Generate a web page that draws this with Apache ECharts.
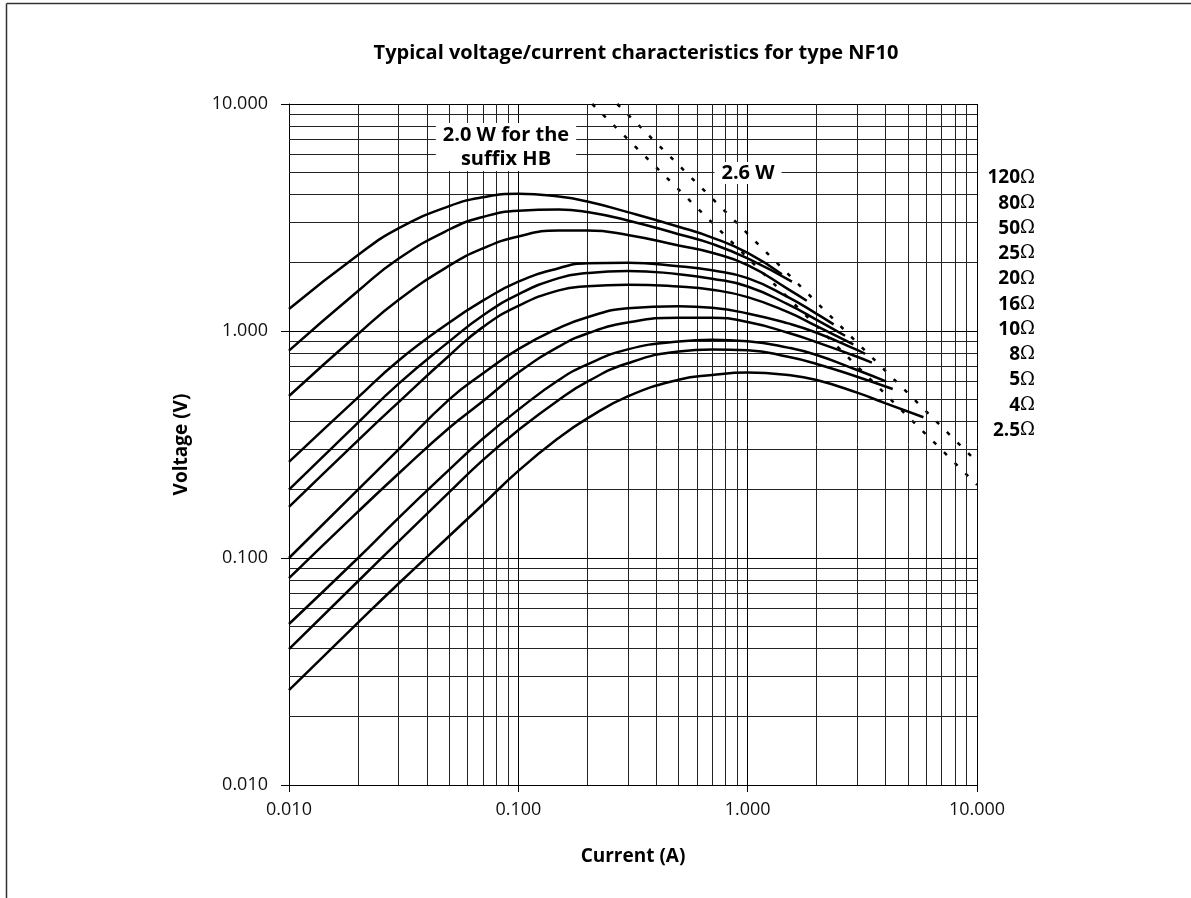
<!DOCTYPE html>
<html>
<head>
<meta charset="utf-8">
<script src="https://cdn.jsdelivr.net/npm/echarts@6/dist/echarts.min.js"></script>
<style>
  html, body { margin: 0; padding: 0; background: #fff; }
  #chart { width: 1191px; height: 898px; }
</style>
</head>
<body>
<div id="chart"></div>
<script>
// V/I curves, [current A, voltage V]
const r120 = [[0.01,1.25],[0.02,2.16],[0.03,2.83],[0.05,3.55],[0.07,3.88],[0.1,4.02],[0.15,3.91],[0.2,3.72],[0.3,3.34],[0.5,2.88],[0.7,2.58],[1,2.21],[1.41,1.78]];
const r80 = [[0.01,0.82],[0.02,1.5],[0.03,2.08],[0.05,2.8],[0.07,3.18],[0.1,3.39],[0.15,3.43],[0.2,3.34],[0.3,3.07],[0.5,2.67],[0.7,2.42],[1,2.09],[1.56,1.65]];
const r50 = [[0.01,0.517],[0.02,0.97],[0.03,1.37],[0.05,1.94],[0.07,2.31],[0.1,2.61],[0.15,2.77],[0.2,2.77],[0.3,2.65],[0.5,2.38],[0.7,2.21],[1,1.95],[1.5,1.53],[1.81,1.36]];
const r25 = [[0.01,0.265],[0.02,0.51],[0.03,0.74],[0.05,1.09],[0.07,1.36],[0.1,1.65],[0.15,1.89],[0.2,1.99],[0.3,2.0],[0.5,1.93],[0.7,1.85],[1,1.71],[1.5,1.41],[2,1.19],[2.37,1.07]];
const r20 = [[0.01,0.2],[0.02,0.395],[0.03,0.585],[0.05,0.9],[0.07,1.17],[0.1,1.45],[0.15,1.71],[0.2,1.8],[0.3,1.84],[0.5,1.78],[0.7,1.7],[1,1.57],[1.5,1.31],[2,1.12],[2.66,0.953]];
const r16 = [[0.01,0.168],[0.02,0.33],[0.03,0.485],[0.05,0.78],[0.07,1.04],[0.1,1.29],[0.15,1.51],[0.2,1.575],[0.3,1.6],[0.5,1.57],[0.7,1.52],[1,1.41],[1.5,1.21],[2,1.05],[2.89,0.874]];
const r10 = [[0.01,0.1],[0.02,0.2],[0.03,0.3],[0.05,0.5],[0.07,0.65],[0.1,0.832],[0.15,1.03],[0.2,1.15],[0.3,1.26],[0.5,1.285],[0.7,1.265],[1,1.195],[1.5,1.08],[2,0.982],[3,0.825],[3.25,0.793]];
const r8 = [[0.01,0.0815],[0.02,0.16],[0.03,0.235],[0.05,0.375],[0.07,0.49],[0.1,0.656],[0.15,0.853],[0.2,0.975],[0.3,1.09],[0.5,1.145],[0.7,1.145],[1,1.095],[1.5,0.983],[2,0.892],[3,0.77],[3.48,0.725]];
const r5 = [[0.01,0.0512],[0.02,0.1],[0.03,0.15],[0.05,0.245],[0.07,0.335],[0.1,0.45],[0.15,0.608],[0.2,0.713],[0.3,0.83],[0.5,0.9],[0.7,0.916],[1,0.902],[1.5,0.845],[2,0.784],[3,0.673],[4.01,0.6]];
const r4 = [[0.01,0.0397],[0.02,0.079],[0.03,0.118],[0.05,0.195],[0.07,0.27],[0.1,0.366],[0.15,0.497],[0.2,0.598],[0.3,0.721],[0.5,0.812],[0.7,0.828],[1,0.822],[1.5,0.77],[2,0.716],[3,0.629],[4.29,0.555]];
const r2_5 = [[0.01,0.0262],[0.02,0.0519],[0.03,0.077],[0.05,0.125],[0.07,0.172],[0.1,0.242],[0.15,0.338],[0.2,0.412],[0.3,0.515],[0.5,0.61],[0.7,0.64],[1,0.656],[1.5,0.64],[2,0.608],[3,0.535],[4,0.48],[5.84,0.417]];

// power limit lines (dotted)
const power2_0 = [[0.21,10],[10,0.21]];
const power2_6 = [[0.27,10],[10,0.265]];

const curveNames = ['120', '80', '50', '25', '20', '16', '10', '8', '5', '4', '2.5'];
const curveData = [r120, r80, r50, r25, r20, r16, r10, r8, r5, r4, r2_5];

// minor grid lines of the log paper
const minorX = [0.02,0.03,0.04,0.05,0.06,0.07,0.08,0.09,0.2,0.3,0.4,0.5,0.6,0.7,0.8,0.9,2,3,4,5,6,7,8,9];
const minorY = [0.02,0.03,0.04,0.05,0.06,0.07,0.08,0.09,0.2,0.3,0.4,0.5,0.6,0.7,0.8,0.9,2,3,4,5,6,7,8,9];

const FONT = 'Open Sans';

function renderChart() {
  const chart = echarts.init(document.getElementById('chart'), null, { renderer: 'canvas' });

  const series = curveData.map((d, i) => ({
    name: curveNames[i] + 'Ω',
    type: 'line',
    data: d,
    smooth: 0.5,
    showSymbol: false,
    silent: true,
    z: 5,
    lineStyle: { color: '#000', width: 2.5 }
  }));

  series.push({
    name: '2.0 W',
    type: 'line',
    data: power2_0,
    showSymbol: false,
    silent: true,
    z: 4,
    lineStyle: { color: '#000', width: 2.5, type: [4, 11] }
  });
  series.push({
    name: '2.6 W',
    type: 'line',
    data: power2_6,
    showSymbol: false,
    silent: true,
    z: 4,
    lineStyle: { color: '#000', width: 2.5, type: [4, 11] }
  });

  // minor grid
  series.push({
    name: 'grid',
    type: 'line',
    data: [],
    silent: true,
    z: 1,
    markLine: {
      silent: true,
      symbol: 'none',
      animation: false,
      label: { show: false },
      lineStyle: { color: '#222', width: 1, type: 'solid' },
      emphasis: { disabled: true },
      data: minorX.map(v => ({ xAxis: v })).concat(minorY.map(v => ({ yAxis: v })))
    }
  });

  const labelTexts = curveNames.map((n, i) => ({
    type: 'text',
    x: 1035,
    y: 178 + i * 25.25,
    style: {
      text: '{n|' + n + '}{o|Ω}',
      align: 'right',
      verticalAlign: 'middle',
      rich: {
        n: { fontFamily: FONT, fontWeight: 'bold', fontSize: 19, fill: '#000' },
        o: { fontFamily: 'DejaVu Serif', fontSize: 18, fill: '#000' }
      }
    }
  }));

  const option = {
    animation: false,
    backgroundColor: '#fff',
    grid: { left: 289, right: 214, top: 104, bottom: 113, containLabel: false },
    xAxis: {
      type: 'log',
      logBase: 10,
      min: 0.01,
      max: 10,
      name: 'Current (A)',
      nameLocation: 'middle',
      nameGap: 62,
      nameTextStyle: { fontFamily: FONT, fontWeight: 'bold', fontSize: 19, color: '#000' },
      axisLine: { show: true, lineStyle: { color: '#000', width: 1 } },
      axisTick: { show: true, length: 7, lineStyle: { color: '#000' } },
      minorTick: { show: false },
      splitLine: { show: true, lineStyle: { color: '#000', width: 1 } },
      axisLabel: {
        fontFamily: FONT, fontSize: 18, color: '#111', margin: 16,
        formatter: v => v.toFixed(3)
      }
    },
    yAxis: {
      type: 'log',
      logBase: 10,
      min: 0.01,
      max: 10,
      name: 'Voltage (V)',
      nameLocation: 'middle',
      nameGap: 98,
      nameRotate: 90,
      nameTextStyle: { fontFamily: FONT, fontWeight: 'bold', fontSize: 19, color: '#000' },
      axisLine: { show: true, lineStyle: { color: '#000', width: 1 } },
      axisTick: { show: true, length: 8, lineStyle: { color: '#000' } },
      minorTick: { show: false },
      splitLine: { show: true, lineStyle: { color: '#000', width: 1 } },
      axisLabel: {
        fontFamily: FONT, fontSize: 18, color: '#111', margin: 21,
        formatter: v => v.toFixed(3)
      }
    },
    graphic: [
      { type: 'line', shape: { x1: 6.5, y1: 3.5, x2: 1191, y2: 3.5 }, style: { stroke: '#333', lineWidth: 1.5 }, silent: true },
      { type: 'line', shape: { x1: 6.5, y1: 3.5, x2: 6.5, y2: 898 }, style: { stroke: '#333', lineWidth: 1.5 }, silent: true },
      {
        type: 'text', x: 636, y: 53,
        style: {
          text: 'Typical voltage/current characteristics for type NF10',
          fontFamily: FONT, fontWeight: 'bold', fontSize: 20, fill: '#000',
          align: 'center', verticalAlign: 'middle'
        }
      },
      {
        type: 'text', x: 506, y: 147, z: 10,
        style: {
          text: '2.0 W for the\nsuffix HB',
          fontFamily: FONT, fontWeight: 'bold', fontSize: 20, fill: '#000',
          lineHeight: 24, align: 'center', verticalAlign: 'middle',
          backgroundColor: '#fff', padding: [0, 7, 0, 7]
        }
      },
      {
        type: 'text', x: 748, y: 173, z: 10,
        style: {
          text: '2.6 W',
          fontFamily: FONT, fontWeight: 'bold', fontSize: 20, fill: '#000',
          align: 'center', verticalAlign: 'middle',
          backgroundColor: '#fff', padding: [1, 7, 1, 7]
        }
      }
    ].concat(labelTexts),
    series: series
  };
  chart.setOption(option, true);
}

renderChart();
</script>
</body>
</html>
